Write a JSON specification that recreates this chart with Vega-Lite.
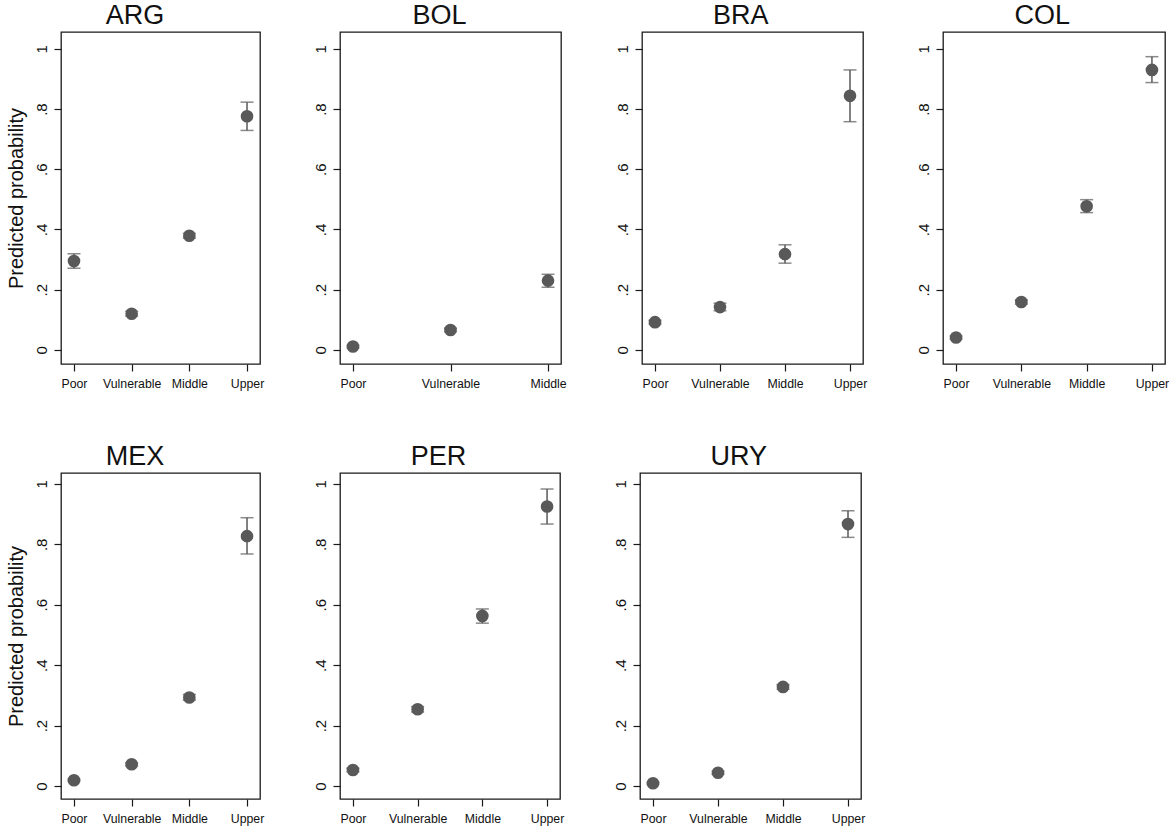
{
  "$schema": "https://vega.github.io/schema/vega-lite/v6.json",
  "padding": {"left": 5, "top": 1, "right": 0, "bottom": 5},
  "background": "white",
  "spacing": 52,
  "config": {
    "font": "Liberation Sans",
    "view": {"stroke": "#1a1a1a", "strokeWidth": 1.3},
    "title": {"fontSize": 27, "fontWeight": "normal", "color": "#111", "anchor": "middle", "frame": "bounds", "offset": 2},
    "axis": {"domain": false, "grid": false, "tickColor": "#1a1a1a", "tickSize": 7, "tickWidth": 1.2, "labelColor": "#111", "titleColor": "#111", "labelFont": "Liberation Sans", "titleFont": "Liberation Sans", "titleFontWeight": "normal"},
    "axisX": {"labelFontSize": 12.3, "labelAngle": 0, "labelPadding": 6, "title": null}
  },
  "data": {"values": [
    {"country": "ARG", "class": "Poor", "est": 0.295, "lo": 0.271, "hi": 0.319},
    {"country": "ARG", "class": "Vulnerable", "est": 0.120, "lo": 0.112, "hi": 0.128},
    {"country": "ARG", "class": "Middle", "est": 0.379, "lo": 0.371, "hi": 0.387},
    {"country": "ARG", "class": "Upper", "est": 0.776, "lo": 0.729, "hi": 0.823},
    {"country": "BOL", "class": "Poor", "est": 0.011, "lo": 0.007, "hi": 0.015},
    {"country": "BOL", "class": "Vulnerable", "est": 0.066, "lo": 0.060, "hi": 0.072},
    {"country": "BOL", "class": "Middle", "est": 0.230, "lo": 0.208, "hi": 0.251},
    {"country": "BRA", "class": "Poor", "est": 0.092, "lo": 0.086, "hi": 0.098},
    {"country": "BRA", "class": "Vulnerable", "est": 0.142, "lo": 0.130, "hi": 0.155},
    {"country": "BRA", "class": "Middle", "est": 0.318, "lo": 0.288, "hi": 0.349},
    {"country": "BRA", "class": "Upper", "est": 0.844, "lo": 0.758, "hi": 0.930},
    {"country": "COL", "class": "Poor", "est": 0.041, "lo": 0.036, "hi": 0.046},
    {"country": "COL", "class": "Vulnerable", "est": 0.159, "lo": 0.152, "hi": 0.166},
    {"country": "COL", "class": "Middle", "est": 0.477, "lo": 0.456, "hi": 0.499},
    {"country": "COL", "class": "Upper", "est": 0.930, "lo": 0.888, "hi": 0.974},
    {"country": "MEX", "class": "Poor", "est": 0.019, "lo": 0.016, "hi": 0.022},
    {"country": "MEX", "class": "Vulnerable", "est": 0.072, "lo": 0.067, "hi": 0.077},
    {"country": "MEX", "class": "Middle", "est": 0.293, "lo": 0.284, "hi": 0.303},
    {"country": "MEX", "class": "Upper", "est": 0.827, "lo": 0.768, "hi": 0.888},
    {"country": "PER", "class": "Poor", "est": 0.053, "lo": 0.047, "hi": 0.059},
    {"country": "PER", "class": "Vulnerable", "est": 0.254, "lo": 0.245, "hi": 0.263},
    {"country": "PER", "class": "Middle", "est": 0.563, "lo": 0.539, "hi": 0.586},
    {"country": "PER", "class": "Upper", "est": 0.925, "lo": 0.867, "hi": 0.983},
    {"country": "URY", "class": "Poor", "est": 0.009, "lo": 0.006, "hi": 0.012},
    {"country": "URY", "class": "Vulnerable", "est": 0.044, "lo": 0.039, "hi": 0.049},
    {"country": "URY", "class": "Middle", "est": 0.328, "lo": 0.320, "hi": 0.336},
    {"country": "URY", "class": "Upper", "est": 0.867, "lo": 0.823, "hi": 0.911}
  ]},
  "vconcat": [
    {"spacing": 47, "hconcat": [
      {"title": "ARG", "width": 199, "height": 332,
       "transform": [{"filter": "datum.country == 'ARG'"}],
       "encoding": {
         "x": {"field": "class", "type": "ordinal", "sort": ["Poor", "Vulnerable", "Middle", "Upper"], "scale": {"type": "point", "padding": 0.225}}
       },
       "layer": [
         {"mark": {"type": "rule", "color": "#595959", "strokeWidth": 1.5}, "encoding": {"y": {"field": "lo", "type": "quantitative", "scale": {"domain": [-0.047, 1.056], "nice": false, "zero": false}, "axis": {"values": [0, 0.2, 0.4, 0.6, 0.8, 1], "labelExpr": "datum.value == 0 ? '0' : datum.value == 1 ? '1' : replace(format(datum.value, '.1f'), '0.', '.')", "labelFontSize": 15, "labelAngle": -90, "labelAlign": "center", "labelBaseline": "bottom", "labelPadding": 5, "title": "Predicted probability", "titleFontSize": 20, "titlePadding": 8}}, "y2": {"field": "hi"}}},
         {"mark": {"type": "tick", "color": "#595959", "size": 13, "thickness": 1.5}, "encoding": {"y": {"field": "lo", "type": "quantitative"}}},
         {"mark": {"type": "tick", "color": "#595959", "size": 13, "thickness": 1.5}, "encoding": {"y": {"field": "hi", "type": "quantitative"}}},
         {"mark": {"type": "point", "filled": true, "color": "#595959", "opacity": 1, "size": 160}, "encoding": {"y": {"field": "est", "type": "quantitative"}}}
       ]},
      {"title": "BOL", "width": 221, "height": 332,
       "transform": [{"filter": "datum.country == 'BOL'"}],
       "encoding": {
         "x": {"field": "class", "type": "ordinal", "sort": ["Poor", "Vulnerable", "Middle"], "scale": {"type": "point", "padding": 0.133}}
       },
       "layer": [
         {"mark": {"type": "rule", "color": "#595959", "strokeWidth": 1.5}, "encoding": {"y": {"field": "lo", "type": "quantitative", "scale": {"domain": [-0.047, 1.056], "nice": false, "zero": false}, "axis": {"values": [0, 0.2, 0.4, 0.6, 0.8, 1], "labelExpr": "datum.value == 0 ? '0' : datum.value == 1 ? '1' : replace(format(datum.value, '.1f'), '0.', '.')", "labelFontSize": 15, "labelAngle": -90, "labelAlign": "center", "labelBaseline": "bottom", "labelPadding": 5, "title": null}}, "y2": {"field": "hi"}}},
         {"mark": {"type": "tick", "color": "#595959", "size": 13, "thickness": 1.5}, "encoding": {"y": {"field": "lo", "type": "quantitative"}}},
         {"mark": {"type": "tick", "color": "#595959", "size": 13, "thickness": 1.5}, "encoding": {"y": {"field": "hi", "type": "quantitative"}}},
         {"mark": {"type": "point", "filled": true, "color": "#595959", "opacity": 1, "size": 160}, "encoding": {"y": {"field": "est", "type": "quantitative"}}}
       ]},
      {"title": "BRA", "width": 221, "height": 332,
       "transform": [{"filter": "datum.country == 'BRA'"}],
       "encoding": {
         "x": {"field": "class", "type": "ordinal", "sort": ["Poor", "Vulnerable", "Middle", "Upper"], "scale": {"type": "point", "padding": 0.2}}
       },
       "layer": [
         {"mark": {"type": "rule", "color": "#595959", "strokeWidth": 1.5}, "encoding": {"y": {"field": "lo", "type": "quantitative", "scale": {"domain": [-0.047, 1.056], "nice": false, "zero": false}, "axis": {"values": [0, 0.2, 0.4, 0.6, 0.8, 1], "labelExpr": "datum.value == 0 ? '0' : datum.value == 1 ? '1' : replace(format(datum.value, '.1f'), '0.', '.')", "labelFontSize": 15, "labelAngle": -90, "labelAlign": "center", "labelBaseline": "bottom", "labelPadding": 5, "title": null}}, "y2": {"field": "hi"}}},
         {"mark": {"type": "tick", "color": "#595959", "size": 13, "thickness": 1.5}, "encoding": {"y": {"field": "lo", "type": "quantitative"}}},
         {"mark": {"type": "tick", "color": "#595959", "size": 13, "thickness": 1.5}, "encoding": {"y": {"field": "hi", "type": "quantitative"}}},
         {"mark": {"type": "point", "filled": true, "color": "#595959", "opacity": 1, "size": 160}, "encoding": {"y": {"field": "est", "type": "quantitative"}}}
       ]},
      {"title": "COL", "width": 222, "height": 332,
       "transform": [{"filter": "datum.country == 'COL'"}],
       "encoding": {
         "x": {"field": "class", "type": "ordinal", "sort": ["Poor", "Vulnerable", "Middle", "Upper"], "scale": {"type": "point", "padding": 0.2}}
       },
       "layer": [
         {"mark": {"type": "rule", "color": "#595959", "strokeWidth": 1.5}, "encoding": {"y": {"field": "lo", "type": "quantitative", "scale": {"domain": [-0.047, 1.056], "nice": false, "zero": false}, "axis": {"values": [0, 0.2, 0.4, 0.6, 0.8, 1], "labelExpr": "datum.value == 0 ? '0' : datum.value == 1 ? '1' : replace(format(datum.value, '.1f'), '0.', '.')", "labelFontSize": 15, "labelAngle": -90, "labelAlign": "center", "labelBaseline": "bottom", "labelPadding": 5, "title": null}}, "y2": {"field": "hi"}}},
         {"mark": {"type": "tick", "color": "#595959", "size": 13, "thickness": 1.5}, "encoding": {"y": {"field": "lo", "type": "quantitative"}}},
         {"mark": {"type": "tick", "color": "#595959", "size": 13, "thickness": 1.5}, "encoding": {"y": {"field": "hi", "type": "quantitative"}}},
         {"mark": {"type": "point", "filled": true, "color": "#595959", "opacity": 1, "size": 160}, "encoding": {"y": {"field": "est", "type": "quantitative"}}}
       ]}
    ]},
    {"spacing": 47, "hconcat": [
      {"title": "MEX", "width": 199, "height": 326,
       "transform": [{"filter": "datum.country == 'MEX'"}],
       "encoding": {
         "x": {"field": "class", "type": "ordinal", "sort": ["Poor", "Vulnerable", "Middle", "Upper"], "scale": {"type": "point", "padding": 0.225}}
       },
       "layer": [
         {"mark": {"type": "rule", "color": "#595959", "strokeWidth": 1.5}, "encoding": {"y": {"field": "lo", "type": "quantitative", "scale": {"domain": [-0.043, 1.036], "nice": false, "zero": false}, "axis": {"values": [0, 0.2, 0.4, 0.6, 0.8, 1], "labelExpr": "datum.value == 0 ? '0' : datum.value == 1 ? '1' : replace(format(datum.value, '.1f'), '0.', '.')", "labelFontSize": 15, "labelAngle": -90, "labelAlign": "center", "labelBaseline": "bottom", "labelPadding": 5, "title": "Predicted probability", "titleFontSize": 20, "titlePadding": 8}}, "y2": {"field": "hi"}}},
         {"mark": {"type": "tick", "color": "#595959", "size": 13, "thickness": 1.5}, "encoding": {"y": {"field": "lo", "type": "quantitative"}}},
         {"mark": {"type": "tick", "color": "#595959", "size": 13, "thickness": 1.5}, "encoding": {"y": {"field": "hi", "type": "quantitative"}}},
         {"mark": {"type": "point", "filled": true, "color": "#595959", "opacity": 1, "size": 160}, "encoding": {"y": {"field": "est", "type": "quantitative"}}}
       ]},
      {"title": "PER", "width": 220, "height": 326,
       "transform": [{"filter": "datum.country == 'PER'"}],
       "encoding": {
         "x": {"field": "class", "type": "ordinal", "sort": ["Poor", "Vulnerable", "Middle", "Upper"], "scale": {"type": "point", "padding": 0.2}}
       },
       "layer": [
         {"mark": {"type": "rule", "color": "#595959", "strokeWidth": 1.5}, "encoding": {"y": {"field": "lo", "type": "quantitative", "scale": {"domain": [-0.043, 1.036], "nice": false, "zero": false}, "axis": {"values": [0, 0.2, 0.4, 0.6, 0.8, 1], "labelExpr": "datum.value == 0 ? '0' : datum.value == 1 ? '1' : replace(format(datum.value, '.1f'), '0.', '.')", "labelFontSize": 15, "labelAngle": -90, "labelAlign": "center", "labelBaseline": "bottom", "labelPadding": 5, "title": null}}, "y2": {"field": "hi"}}},
         {"mark": {"type": "tick", "color": "#595959", "size": 13, "thickness": 1.5}, "encoding": {"y": {"field": "lo", "type": "quantitative"}}},
         {"mark": {"type": "tick", "color": "#595959", "size": 13, "thickness": 1.5}, "encoding": {"y": {"field": "hi", "type": "quantitative"}}},
         {"mark": {"type": "point", "filled": true, "color": "#595959", "opacity": 1, "size": 160}, "encoding": {"y": {"field": "est", "type": "quantitative"}}}
       ]},
      {"title": "URY", "width": 221, "height": 326,
       "transform": [{"filter": "datum.country == 'URY'"}],
       "encoding": {
         "x": {"field": "class", "type": "ordinal", "sort": ["Poor", "Vulnerable", "Middle", "Upper"], "scale": {"type": "point", "padding": 0.2}}
       },
       "layer": [
         {"mark": {"type": "rule", "color": "#595959", "strokeWidth": 1.5}, "encoding": {"y": {"field": "lo", "type": "quantitative", "scale": {"domain": [-0.043, 1.036], "nice": false, "zero": false}, "axis": {"values": [0, 0.2, 0.4, 0.6, 0.8, 1], "labelExpr": "datum.value == 0 ? '0' : datum.value == 1 ? '1' : replace(format(datum.value, '.1f'), '0.', '.')", "labelFontSize": 15, "labelAngle": -90, "labelAlign": "center", "labelBaseline": "bottom", "labelPadding": 5, "title": null}}, "y2": {"field": "hi"}}},
         {"mark": {"type": "tick", "color": "#595959", "size": 13, "thickness": 1.5}, "encoding": {"y": {"field": "lo", "type": "quantitative"}}},
         {"mark": {"type": "tick", "color": "#595959", "size": 13, "thickness": 1.5}, "encoding": {"y": {"field": "hi", "type": "quantitative"}}},
         {"mark": {"type": "point", "filled": true, "color": "#595959", "opacity": 1, "size": 160}, "encoding": {"y": {"field": "est", "type": "quantitative"}}}
       ]}
    ]}
  ]
}
